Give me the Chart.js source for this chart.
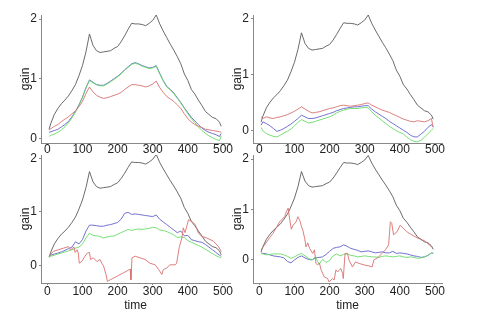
<!DOCTYPE html>
<html><head><meta charset="utf-8">
<script src="https://cdn.jsdelivr.net/npm/chart.js@4.4.0/dist/chart.umd.min.js"></script>
<style>
html,body{margin:0;padding:0;background:#fff;width:479px;height:316px;overflow:hidden}
canvas{position:absolute;left:0;top:0}
</style></head>
<body>
<canvas id="c0" width="479" height="316"></canvas>
<canvas id="c1" width="479" height="316"></canvas>
<canvas id="c2" width="479" height="316"></canvas>
<canvas id="c3" width="479" height="316"></canvas>
<script>
// ---- data ----
const time = [5,10,20,30,40,50,60,70,80,90,100,110,120,130,140,150,160,170,180,190,200,210,220,230,240,250,260,270,280,290,300,310,320,330,340,350,360,370,380,390,400,410,420,430,440,450,460,470,480,490,495];
const xTicks = [0,100,200,300,400,500];
const yTicks = [0,1,2];

const blackGain = [0.15,0.25,0.40,0.50,0.58,0.64,0.71,0.80,0.90,1.05,1.22,1.45,1.75,1.56,1.47,1.44,1.45,1.46,1.47,1.51,1.54,1.62,1.72,1.83,1.93,1.92,1.92,1.91,1.89,1.93,1.98,2.07,1.92,1.80,1.69,1.58,1.48,1.37,1.25,1.08,0.97,0.82,0.74,0.64,0.55,0.45,0.40,0.35,0.33,0.27,0.20];

// top-left
const tlRed   = [0.14,0.16,0.20,0.23,0.28,0.32,0.36,0.41,0.46,0.53,0.62,0.75,0.86,0.78,0.72,0.69,0.67,0.68,0.70,0.72,0.74,0.77,0.82,0.86,0.90,0.90,0.89,0.88,0.86,0.88,0.91,0.96,0.85,0.77,0.70,0.66,0.62,0.56,0.50,0.41,0.33,0.27,0.23,0.20,0.18,0.15,0.14,0.13,0.12,0.11,0.10];
const tlBlue  = [0.10,0.11,0.13,0.15,0.19,0.23,0.28,0.36,0.45,0.56,0.69,0.85,0.98,0.94,0.90,0.89,0.89,0.92,0.96,1.00,1.04,1.09,1.15,1.20,1.25,1.27,1.25,1.22,1.20,1.18,1.19,1.22,1.09,0.97,0.87,0.82,0.76,0.68,0.60,0.51,0.43,0.35,0.29,0.23,0.17,0.13,0.10,0.08,0.06,0.03,0.08];
const tlGreen = [0.03,0.05,0.07,0.10,0.14,0.19,0.26,0.34,0.44,0.55,0.68,0.84,0.97,0.93,0.90,0.88,0.88,0.91,0.95,0.99,1.03,1.08,1.14,1.19,1.24,1.26,1.24,1.21,1.19,1.17,1.18,1.21,1.08,0.96,0.86,0.81,0.75,0.67,0.59,0.50,0.41,0.33,0.26,0.19,0.13,0.08,0.04,0.01,-0.02,-0.04,0.04];

// top-right
const trRed   = [0.24,0.21,0.24,0.22,0.21,0.23,0.24,0.26,0.28,0.31,0.34,0.38,0.42,0.38,0.34,0.31,0.32,0.33,0.35,0.37,0.39,0.40,0.42,0.44,0.45,0.44,0.43,0.44,0.45,0.46,0.48,0.49,0.45,0.42,0.39,0.36,0.34,0.32,0.29,0.26,0.23,0.20,0.18,0.16,0.15,0.17,0.16,0.15,0.17,0.21,0.05];
const trBlue  = [0.09,0.15,0.12,0.08,0.03,-0.02,0.00,0.03,0.07,0.11,0.16,0.21,0.27,0.24,0.21,0.21,0.22,0.24,0.26,0.28,0.30,0.32,0.35,0.37,0.39,0.40,0.41,0.42,0.42,0.43,0.44,0.44,0.38,0.33,0.29,0.25,0.21,0.16,0.12,0.08,0.04,0.00,-0.04,-0.09,-0.12,-0.12,-0.07,-0.02,0.05,0.10,0.06];
const trGreen = [0.05,-0.01,-0.06,-0.09,-0.11,-0.12,-0.09,-0.05,-0.02,0.02,0.08,0.14,0.19,0.16,0.13,0.14,0.16,0.18,0.20,0.22,0.24,0.27,0.31,0.34,0.36,0.38,0.39,0.39,0.39,0.40,0.41,0.40,0.33,0.27,0.22,0.17,0.12,0.07,0.03,-0.01,-0.04,-0.07,-0.12,-0.17,-0.20,-0.21,-0.18,-0.13,-0.06,0.00,0.03];

// bottom-left
const blBlue  = [0.18,0.19,0.21,0.23,0.25,0.28,0.31,0.34,0.44,0.40,0.48,0.64,0.75,0.75,0.74,0.73,0.73,0.75,0.76,0.78,0.80,0.86,0.97,0.99,0.95,0.96,0.95,0.94,0.93,0.92,0.91,0.94,0.86,0.81,0.76,0.71,0.66,0.61,0.64,0.55,0.56,0.48,0.46,0.44,0.43,0.39,0.34,0.29,0.24,0.19,0.17];
const blGreen = [0.16,0.17,0.19,0.21,0.23,0.25,0.27,0.29,0.32,0.34,0.40,0.51,0.60,0.56,0.55,0.54,0.51,0.53,0.54,0.55,0.58,0.61,0.64,0.67,0.65,0.67,0.68,0.67,0.68,0.69,0.71,0.70,0.66,0.65,0.63,0.60,0.57,0.52,0.53,0.52,0.46,0.43,0.40,0.37,0.34,0.30,0.26,0.22,0.18,0.15,0.14];
const blRedTime = [5,17,31,46,60,66,76,79,85,88,91,98,107,114,120,123,131,141,150,155,160,167,171,179,188,202,217,231,236,238,241,250,264,278,292,307,316,326,330,340,349,364,368,376,383,387,392,397,402,411,421,430,440,454,473,487,495];
const blRed     = [0.17,0.26,0.29,0.32,0.35,0.29,0.34,0.24,0.29,0.23,0.04,0.07,0.17,0.23,0.24,0.11,0.14,0.07,0.11,0.04,-0.01,-0.17,-0.30,-0.27,-0.24,-0.19,-0.14,-0.09,-0.07,-0.27,0.14,0.17,0.14,0.11,0.04,0.01,-0.07,-0.17,-0.08,-0.05,0.01,0.01,0.04,0.35,0.51,0.70,0.61,0.73,0.85,0.82,0.76,0.60,0.54,0.51,0.45,0.35,0.26];

// bottom-right
const brBlue  = [0.13,0.12,0.11,0.09,0.07,0.06,0.05,0.03,-0.04,-0.07,-0.01,0.04,0.07,0.03,0.00,-0.01,0.03,0.04,0.05,0.10,0.16,0.22,0.24,0.25,0.29,0.26,0.22,0.20,0.18,0.15,0.16,0.17,0.15,0.13,0.14,0.15,0.13,0.13,0.16,0.12,0.13,0.12,0.11,0.09,0.07,0.06,0.04,0.05,0.08,0.13,0.12];
const brGreen = [0.13,0.11,0.09,0.10,0.11,0.11,0.11,0.09,0.06,0.02,0.05,0.09,0.12,0.07,0.02,-0.01,0.05,-0.10,0.00,-0.06,-0.02,0.07,0.11,0.07,0.10,0.11,0.08,0.07,0.05,0.06,0.07,0.06,0.05,0.05,0.04,0.06,0.07,0.06,0.05,0.06,0.07,0.05,0.04,0.05,0.04,0.02,0.03,0.05,0.08,0.13,0.12];
const brRedTime = [5,21,39,58,72,77,82,86,91,96,105,110,115,119,124,129,133,138,143,152,157,161,166,171,176,185,194,199,208,213,218,223,232,237,239,244,251,255,265,274,284,298,312,321,326,340,349,359,368,373,377,382,392,401,410,420,434,452,471,490];
const brRed     = [0.19,0.35,0.52,0.75,0.85,0.95,1.02,0.82,0.60,0.68,0.75,0.85,0.78,0.68,0.58,0.42,0.25,0.33,0.22,0.12,0.19,-0.08,-0.11,-0.07,-0.21,-0.35,-0.38,-0.45,-0.38,-0.41,-0.21,-0.25,-0.18,-0.28,-0.38,0.12,0.12,-0.01,-0.15,-0.05,-0.08,-0.11,-0.13,-0.15,-0.01,0.05,0.12,0.19,0.29,0.75,0.72,0.49,0.55,0.68,0.62,0.55,0.49,0.42,0.37,0.25];

// ---- drawing ----
Chart.defaults.font.family = "'Liberation Sans', Arial, sans-serif";
Chart.defaults.font.size = 12;
Chart.defaults.color = '#222';

const COL = {black:'#5a5a5a', red:'#d87070', blue:'#6262cc', green:'#66dd66'};
function pts(xs, ys){ return ys.map((y,i)=>({x:xs[i], y:y})); }
function ds(xs, ys, c){ return {data:pts(xs, ys), borderColor:c, borderWidth:0.9, pointRadius:0, fill:false, tension:0}; }

const panels = [
  {id:'c0', area:[41,15,230,143], yMin:-0.08, yMax:2.07, red:[time,tlRed], blue:tlBlue, green:tlGreen, showTime:false},
  {id:'c1', area:[253,15,442,143], yMin:-0.23, yMax:2.07, red:[time,trRed], blue:trBlue, green:trGreen, showTime:false},
  {id:'c2', area:[41,155,230,283], yMin:-0.33, yMax:2.06, red:[blRedTime,blRed], blue:blBlue, green:blGreen, showTime:true},
  {id:'c3', area:[253,155,442,283], yMin:-0.47, yMax:2.08, red:[brRedTime,brRed], blue:brBlue, green:brGreen, showTime:true}
];

panels.forEach(p => {
  const [l,t,r,b] = p.area;
  const yW = 23;
  const xH = p.showTime ? 30 : 14;
  new Chart(document.getElementById(p.id), {
    type: 'line',
    data: { datasets: [
      ds(p.red[0], p.red[1], COL.red),
      ds(time, p.green, COL.green),
      ds(time, p.blue, COL.blue),
      ds(time, blackGain, COL.black)
    ]},
    options: {
      responsive: false, animation: false, events: [],
      layout: { padding: { left: l - yW, top: t, right: 479 - r, bottom: 316 - b - xH } },
      plugins: { legend: {display:false}, tooltip: {enabled:false} },
      scales: {
        x: {
          type: 'linear', min: -18, max: 520,
          afterBuildTicks: s => { s.ticks = xTicks.map(v => ({value:v})); },
          afterFit: s => { s.height = xH; },
          grid: { drawOnChartArea:false, tickLength:2, color:'#888' },
          border: { color:'#888', width:1 },
          ticks: { padding: p.showTime ? -1 : -3, maxRotation:0, autoSkip:false, color:'#222' },
          title: { display: p.showTime, text:'time', padding:{top:0,bottom:0}, color:'#222', font:{size:12} }
        },
        y: {
          type: 'linear', min: p.yMin, max: p.yMax,
          afterBuildTicks: s => { s.ticks = yTicks.map(v => ({value:v})); },
          afterFit: s => { s.width = yW; },
          grid: { drawOnChartArea:false, tickLength:2, color:'#888' },
          border: { color:'#888', width:1 },
          ticks: { padding: 2, color:'#222' },
          title: { display:true, text:'gain', padding:{top:0,bottom:0}, color:'#222', font:{size:12} }
        }
      }
    }
  });
});
</script>
</body></html>
